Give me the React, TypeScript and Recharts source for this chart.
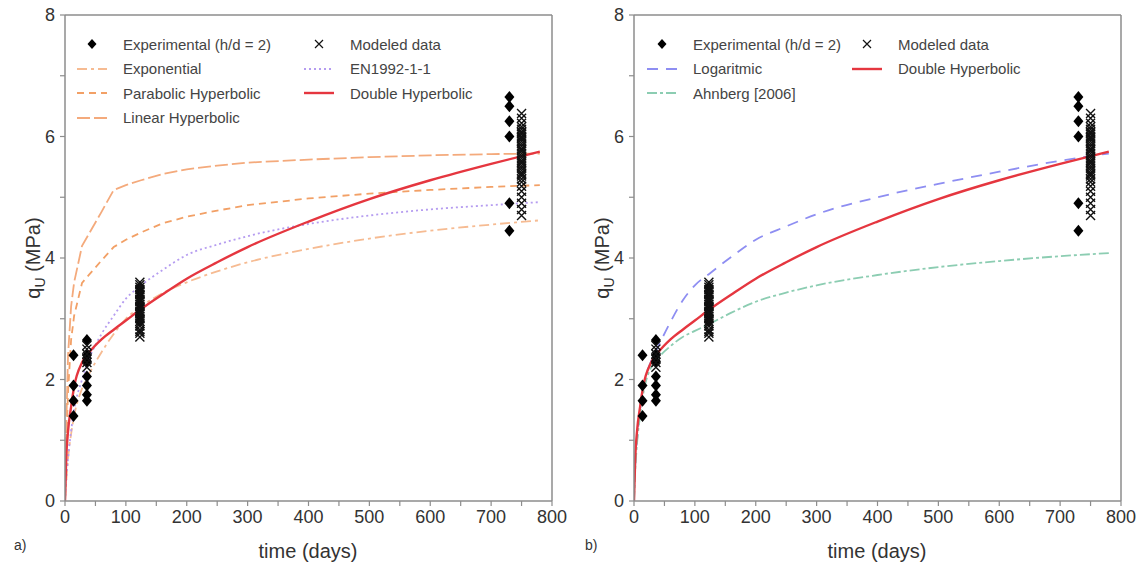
import React from "react";
import { ComposedChart, Line, Scatter, XAxis, YAxis, ReferenceLine } from "recharts";

const FONT = '"Liberation Sans", Arial, Helvetica, sans-serif';
const AXIS_COLOR = "#8d8d8d";
const W = 569;
const H = 564;

// sampled days for all model curves
const curveDays = [0, 2, 5, 10, 15, 28, 40, 60, 80, 100, 125, 160, 200, 250, 300, 400, 500, 600, 700, 780];

const doubleHyperbolic = [0, 0.7, 1.15, 1.55, 1.88, 2.28, 2.45, 2.66, 2.82, 2.97, 3.16, 3.4, 3.66, 3.93, 4.18, 4.6, 4.97, 5.28, 5.55, 5.75];
const linearHyperbolic = [0, 1.2, 2.4, 3.2, 3.6, 4.2, 4.41, 4.76, 5.12, 5.2, 5.28, 5.38, 5.46, 5.52, 5.57, 5.62, 5.66, 5.69, 5.71, 5.72];
const parabolicHyperbolic = [0, 0.9, 1.8, 2.65, 3.05, 3.59, 3.73, 3.96, 4.18, 4.3, 4.42, 4.57, 4.68, 4.78, 4.87, 4.98, 5.06, 5.12, 5.17, 5.2];
const exponential = [0, 0.3, 0.7, 1.1, 1.4, 1.85, 2.1, 2.45, 2.75, 3.0, 3.2, 3.42, 3.6, 3.78, 3.93, 4.15, 4.32, 4.45, 4.55, 4.62];
const en1992 = [0, 0.35, 0.7, 1.15, 1.5, 2.0, 2.35, 2.75, 3.05, 3.33, 3.55, 3.8, 4.05, 4.22, 4.36, 4.56, 4.7, 4.8, 4.87, 4.92];
const logaritmic = [null, 0.6, 1.0, 1.5, 1.85, 2.3, 2.55, 2.95, 3.3, 3.55, 3.75, 4.02, 4.3, 4.52, 4.72, 5.0, 5.22, 5.42, 5.6, 5.72];
const ahnberg = [0, 0.5, 0.95, 1.4, 1.75, 2.2, 2.36, 2.55, 2.7, 2.8, 2.92, 3.1, 3.28, 3.43, 3.55, 3.72, 3.85, 3.95, 4.03, 4.08];

// experimental results (h/d = 2)
const expDays = [14, 14, 14, 14, 36, 36, 36, 36, 36, 36, 36, 123, 123, 123, 123, 123, 123, 123, 730, 730, 730, 730, 730, 730];
const expValues = [1.4, 1.65, 1.9, 2.4, 1.65, 1.75, 1.9, 2.05, 2.3, 2.4, 2.65, 2.95, 3.05, 3.15, 3.25, 3.35, 3.45, 3.52, 4.45, 4.9, 6.0, 6.25, 6.5, 6.65];

// modeled data
const modDays = [
  36, 36, 36, 36, 36, 36,
  123, 123, 123, 123, 123, 123, 123, 123, 123, 123, 123, 123, 123, 123, 123, 123, 123, 123, 123, 123, 123, 123, 123, 123, 123,
  750, 750, 750, 750, 750, 750, 750, 750, 750, 750, 750, 750, 750, 750, 750, 750, 750, 750, 750, 750, 750, 750, 750, 750, 750,
  750, 750, 750, 750, 750, 750, 750, 750, 750, 750, 750, 750, 750,
];
const modValues = [
  2.2, 2.28, 2.35, 2.42, 2.5, 2.56,
  2.7, 2.76, 2.82, 2.88, 2.92, 2.96, 3.0, 3.04, 3.08, 3.12, 3.16, 3.2, 3.24, 3.28, 3.32, 3.36, 3.4, 3.44, 3.48, 3.52, 3.56, 3.6, 2.79, 3.1, 3.3,
  4.7, 4.8, 4.9, 5.0, 5.1, 5.18, 5.25, 5.3, 5.35, 5.4, 5.44, 5.48, 5.52, 5.56, 5.6, 5.64, 5.68, 5.72, 5.76, 5.8, 5.84, 5.88, 5.92, 5.96,
  6.0, 6.04, 6.08, 6.12, 6.16, 6.22, 6.3, 6.38, 5.38, 5.58, 5.78, 5.98, 6.06,
];

const xTicks = [0, 50, 100, 150, 200, 250, 300, 350, 400, 450, 500, 550, 600, 650, 700, 750, 800];
const yTicks = [0, 1, 2, 3, 4, 5, 6, 7, 8];

type Pt = { t: number; v: number };
const toPoints = (days: number[], values: (number | null)[]): Pt[] =>
  days
    .map((t, i) => ({ t, v: values[i] }))
    .filter((p): p is Pt => p.v !== null);

const expPoints = toPoints(expDays, expValues);
const modPoints = toPoints(modDays, modValues);

type Series = {
  name: string;
  values: (number | null)[];
  color: string;
  dash?: string;
  width: number;
  kind?: "linear" | "monotone";
};

const seriesA: Series[] = [
  { name: "Exponential", values: exponential, color: "#f6bb92", dash: "10 4 3 4", width: 1.8 },
  { name: "Parabolic Hyperbolic", values: parabolicHyperbolic, color: "#f2a066", dash: "7 5", width: 1.8, kind: "linear" },
  { name: "Linear Hyperbolic", values: linearHyperbolic, color: "#f4aa7c", dash: "13 4", width: 1.8, kind: "linear" },
  { name: "EN1992-1-1", values: en1992, color: "#b59cf0", dash: "2 3", width: 1.8 },
  { name: "Double Hyperbolic", values: doubleHyperbolic, color: "#e5363f", width: 2.4 },
];

const seriesB: Series[] = [
  { name: "Logaritmic", values: logaritmic, color: "#8e8ef2", dash: "11 8", width: 1.8 },
  { name: "Ahnberg [2006]", values: ahnberg, color: "#8ccdb2", dash: "10 3 3 3", width: 1.8 },
  { name: "Double Hyperbolic", values: doubleHyperbolic, color: "#e5363f", width: 2.4 },
];

const Diamond = (props: any) => {
  const { cx, cy } = props;
  return <path d={`M${cx},${cy - 6}L${cx + 5},${cy}L${cx},${cy + 6}L${cx - 5},${cy}Z`} fill="#000" />;
};

const Cross = (props: any) => {
  const { cx, cy } = props;
  return (
    <path
      d={`M${cx - 4.5},${cy - 4.5}L${cx + 4.5},${cy + 4.5}M${cx + 4.5},${cy - 4.5}L${cx - 4.5},${cy + 4.5}`}
      stroke="#111"
      strokeWidth={1.4}
      fill="none"
    />
  );
};

const XTick = (props: any) => {
  const { x, y, payload } = props;
  if (payload.value % 100 !== 0) return <g />;
  return (
    <text x={x} y={y} dy="0.71em" textAnchor="middle" fontSize={18} fill="#333" fontFamily={FONT}>
      {payload.value}
    </text>
  );
};

const YTick = (props: any) => {
  const { x, y, payload } = props;
  if (payload.value % 2 !== 0) return <g />;
  return (
    <text x={x} y={y} dy="0.355em" textAnchor="end" fontSize={18} fill="#333" fontFamily={FONT}>
      {payload.value}
    </text>
  );
};

type LegendEntry = { label: string; kind: "diamond" | "cross" | "line"; color?: string; dash?: string; width?: number } | null;

const LegendSymbol = ({ entry }: { entry: NonNullable<LegendEntry> }) => (
  <svg width={32} height={24}>
    {entry.kind === "diamond" && <path d="M16,7L20.5,12L16,17L11.5,12Z" fill="#000" />}
    {entry.kind === "cross" && <path d="M12,8L20,16M20,8L12,16" stroke="#111" strokeWidth={1.2} />}
    {entry.kind === "line" && (
      <line x1={1} y1={12} x2={31} y2={12} stroke={entry.color} strokeWidth={entry.width} strokeDasharray={entry.dash} />
    )}
  </svg>
);

const LegendBox = ({ entries, left, columns }: { entries: LegendEntry[]; left: number; columns: string }) => (
  <div
    style={{
      position: "absolute",
      top: 32,
      left,
      display: "grid",
      gridTemplateColumns: columns,
      gridAutoRows: "24.5px",
      alignItems: "center",
      fontFamily: FONT,
      fontSize: 15,
      color: "#444",
    }}
  >
    {entries.flatMap((e, i) =>
      e
        ? [
            <div key={`s${i}`} style={{ height: 24 }}>
              <LegendSymbol entry={e} />
            </div>,
            <div key={`t${i}`} style={{ paddingLeft: 15, whiteSpace: "nowrap" }}>
              {e.label}
            </div>,
          ]
        : [<div key={`s${i}`} />, <div key={`t${i}`} />]
    )}
  </div>
);

const lineEntry = (s: Series): LegendEntry => ({ label: s.name, kind: "line", color: s.color, dash: s.dash, width: s.width });
const expEntry: LegendEntry = { label: "Experimental (h/d = 2)", kind: "diamond" };
const modEntry: LegendEntry = { label: "Modeled data", kind: "cross" };

const legendA: LegendEntry[] = [
  expEntry, modEntry,
  lineEntry(seriesA[0]), lineEntry(seriesA[3]),
  lineEntry(seriesA[1]), lineEntry(seriesA[4]),
  lineEntry(seriesA[2]), null,
];
const legendB: LegendEntry[] = [
  expEntry, modEntry,
  lineEntry(seriesB[0]), lineEntry(seriesB[2]),
  lineEntry(seriesB[1]), null,
];

const Panel = ({
  series,
  legend,
  legendLeft,
  legendColumns,
  tag,
  offset,
}: {
  series: Series[];
  legend: LegendEntry[];
  legendLeft: number;
  legendColumns: string;
  tag: string;
  offset: number;
}) => (
  <div style={{ position: "absolute", left: offset, top: 0, width: W, height: H }}>
    <ComposedChart width={W} height={H} margin={{ top: 15, right: 17, bottom: 23, left: 30 }}>
      <XAxis
        type="number"
        dataKey="t"
        domain={[0, 800]}
        ticks={xTicks}
        interval={0}
        tick={<XTick />}
        tickSize={5}
        tickMargin={4}
        axisLine={{ stroke: AXIS_COLOR, strokeWidth: 1.5 }}
        tickLine={{ stroke: AXIS_COLOR, strokeWidth: 1.2 }}
        height={40}
        allowDataOverflow
      />
      <YAxis
        type="number"
        dataKey="v"
        domain={[0, 8]}
        ticks={yTicks}
        interval={0}
        tick={<YTick />}
        tickSize={5}
        tickMargin={5}
        axisLine={{ stroke: AXIS_COLOR, strokeWidth: 1.5 }}
        tickLine={{ stroke: AXIS_COLOR, strokeWidth: 1.2 }}
        width={35}
        allowDataOverflow
      />
      <ReferenceLine y={8} stroke={AXIS_COLOR} strokeWidth={1.5} />
      <ReferenceLine x={800} stroke={AXIS_COLOR} strokeWidth={1.5} />
      <Scatter name="Experimental (h/d = 2)" data={expPoints} dataKey="v" shape={Diamond} isAnimationActive={false} />
      <Scatter name="Modeled data" data={modPoints} dataKey="v" shape={Cross} isAnimationActive={false} />
      {series.map((s) => (
        <Line
          key={s.name}
          name={s.name}
          data={toPoints(curveDays, s.values)}
          dataKey="v"
          type={s.kind ?? "monotone"}
          stroke={s.color}
          strokeWidth={s.width}
          strokeDasharray={s.dash}
          dot={false}
          activeDot={false}
          isAnimationActive={false}
        />
      ))}
    </ComposedChart>
    <LegendBox entries={legend} left={legendLeft} columns={legendColumns} />
    <div
      style={{
        position: "absolute",
        left: 35,
        top: 258,
        transform: "translate(-50%, -50%) rotate(-90deg)",
        whiteSpace: "nowrap",
        fontFamily: FONT,
        fontSize: 20,
        color: "#333",
      }}
    >
      q<sub style={{ fontSize: 14 }}>U</sub> (MPa)
    </div>
    <div
      style={{
        position: "absolute",
        left: 308,
        top: 551,
        transform: "translate(-50%, -50%)",
        whiteSpace: "nowrap",
        fontFamily: FONT,
        fontSize: 20,
        color: "#333",
      }}
    >
      time (days)
    </div>
    <div
      style={{
        position: "absolute",
        left: tag === "a)" ? 14 : 16,
        top: 537,
        fontFamily: FONT,
        fontSize: 14,
        color: "#333",
      }}
    >
      {tag}
    </div>
  </div>
);

export default function App() {
  return (
    <div style={{ position: "absolute", left: 0, top: 0, width: 1142, height: 564, background: "#fff" }}>
      <Panel series={seriesA} legend={legendA} legendLeft={76} legendColumns="32px 195px 32px 170px" tag="a)" offset={0} />
      <Panel series={seriesB} legend={legendB} legendLeft={77} legendColumns="32px 173px 32px 200px" tag="b)" offset={569} />
    </div>
  );
}
